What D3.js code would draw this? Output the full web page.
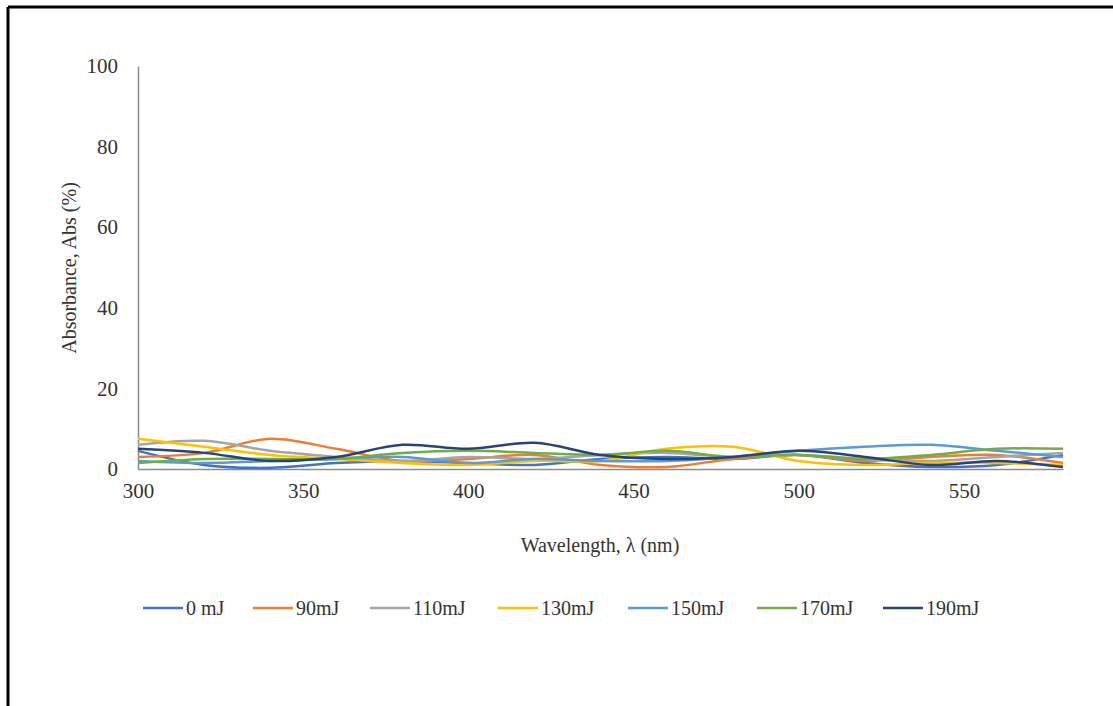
<!DOCTYPE html>
<html>
<head>
<meta charset="utf-8">
<script src="https://cdn.jsdelivr.net/npm/d3@7"></script>
<style>
  body { margin: 0; background: #fff; }
  text { font-family: "Liberation Serif", "Times New Roman", serif; fill: #333; }
</style>
</head>
<body>
<svg id="chart"></svg>
<script>
var width = 1113;
var height = 706;

// wavelength samples (nm)
const wavelengths = [300, 320, 340, 360, 380, 400, 420, 440, 460, 480, 500, 520, 540, 560, 580]

// absorbance (%) per laser energy
const abs0 = [4.5, 1.0, 0.3, 1.5, 2.0, 1.5, 1.0, 2.5, 3.0, 2.5, 3.5, 1.5, 0.5, 1.0, 3.5]
const abs90 = [3.0, 4.0, 7.5, 5.0, 2.0, 2.5, 3.5, 1.0, 0.5, 2.5, 3.5, 2.0, 3.0, 3.5, 1.5]
const abs110 = [6.0, 7.0, 4.5, 3.0, 2.0, 3.0, 2.5, 3.5, 4.0, 3.0, 3.5, 2.5, 2.0, 3.0, 4.0]
const abs130 = [7.5, 5.5, 3.5, 2.5, 1.5, 1.0, 2.0, 2.0, 5.0, 5.5, 2.0, 1.0, 1.5, 1.5, 1.0]
const abs150 = [2.0, 1.5, 2.0, 2.5, 3.0, 1.5, 2.5, 2.0, 2.0, 3.0, 4.5, 5.5, 6.0, 4.5, 3.0]
const abs170 = [1.5, 2.5, 2.5, 2.5, 4.0, 4.5, 4.0, 3.5, 4.5, 3.0, 3.5, 2.5, 3.5, 5.0, 5.0]
const abs190 = [5.0, 4.0, 2.0, 3.0, 6.0, 5.0, 6.5, 3.5, 2.5, 3.0, 4.5, 3.0, 1.0, 2.0, 0.5]

const seriesNames = ['0 mJ', '90mJ', '110mJ', '130mJ', '150mJ', '170mJ', '190mJ']
const seriesValues = [abs0, abs90, abs110, abs130, abs150, abs170, abs190]
const seriesColors = ['#4472C4', '#ED7D31', '#A5A5A5', '#FFC000', '#5B9BD5', '#70AD47', '#264478']

const xTicks = [300, 350, 400, 450, 500, 550]
const yTicks = [0, 20, 40, 60, 80, 100]

var svg = d3.select('#chart').attr('width', width).attr('height', height)

// outer frame (only top and left edges are visible)
svg.append('line').attr('x1', 8).attr('x2', width).attr('y1', 7).attr('y2', 7)
    .attr('stroke', '#000').attr('stroke-width', 3)
svg.append('line').attr('x1', 8).attr('x2', 8).attr('y1', 7).attr('y2', height)
    .attr('stroke', '#000').attr('stroke-width', 3)

var x = d3.scaleLinear().domain([300, 580]).range([138, 1063])
var y = d3.scaleLinear().domain([0, 100]).range([469, 66])

// axes
var xAxis = svg.append('g').attr('transform', 'translate(0,' + y(0) + ')')
    .call(d3.axisBottom(x).tickValues(xTicks).tickSize(0).tickPadding(14))
xAxis.select('.domain').attr('stroke', '#8c8c8c').attr('stroke-width', 1.5)
xAxis.selectAll('text').style('font-size', '21px').attr('fill', '#333')
    .style('font-family', '"Liberation Serif", serif')

var yAxis = svg.append('g').attr('transform', 'translate(' + x(300) + ',0)')
    .call(d3.axisLeft(y).tickValues(yTicks).tickSize(0).tickPadding(20))
yAxis.select('.domain').attr('stroke', '#8c8c8c').attr('stroke-width', 1.5)
yAxis.selectAll('text').style('font-size', '21px').attr('fill', '#333')
    .style('font-family', '"Liberation Serif", serif')

// lines
var line = d3.line()
    .x((d, i) => x(wavelengths[i]))
    .y(d => y(d))
    .curve(d3.curveCatmullRom.alpha(0.5))

svg.append('g').selectAll('path')
    .data(seriesValues)
    .enter()
    .append('path')
    .attr('d', line)
    .attr('fill', 'none')
    .attr('stroke', (d, i) => seriesColors[i])
    .attr('stroke-width', 2.5)

// axis titles
svg.append('text')
    .attr('x', 600).attr('y', 552)
    .attr('text-anchor', 'middle')
    .style('font-size', '20px')
    .text('Wavelength, λ (nm)')

svg.append('text')
    .attr('transform', 'translate(76,268) rotate(-90)')
    .attr('text-anchor', 'middle')
    .style('font-size', '20px')
    .text('Absorbance, Abs (%)')

// legend
const legendX = [143, 253, 370, 498, 628, 757, 883]
var legend = svg.append('g').selectAll('g')
    .data(seriesNames)
    .enter()
    .append('g')
    .attr('transform', (d, i) => 'translate(' + legendX[i] + ',608)')

legend.append('line')
    .attr('x1', 0).attr('x2', 40)
    .attr('stroke', (d, i) => seriesColors[i])
    .attr('stroke-width', 2.5)

legend.append('text')
    .attr('x', 43).attr('y', 7)
    .style('font-size', '20px')
    .text(d => d)
</script>
</body>
</html>
